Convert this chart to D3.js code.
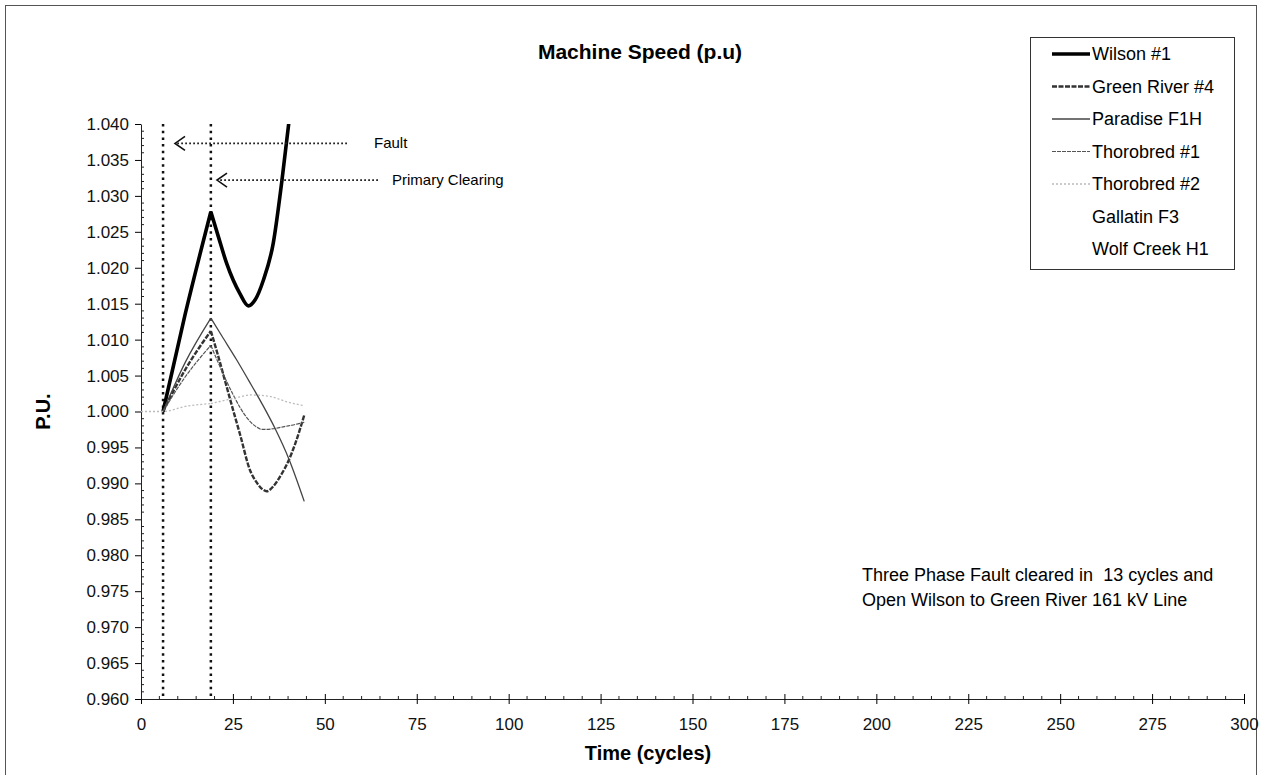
<!DOCTYPE html>
<html>
<head>
<meta charset="utf-8">
<script src="https://cdn.jsdelivr.net/npm/d3@7"></script>
<style>
  body { margin: 0; background: #fff; }
  svg { display: block; font-family: "Liberation Sans", Arial, sans-serif; }
</style>
</head>
<body>
<svg id="chart" width="1262" height="775"></svg>
<script>
// Series data (time in cycles, speed in p.u.)
const seriesNames = ["Wilson #1", "Green River #4", "Paradise F1H", "Thorobred #1", "Thorobred #2", "Gallatin F3", "Wolf Creek H1"];

const wilsonT = [6, 12, 19, 21, 23.3, 26.9, 29.2, 31, 33.3, 36, 38.3, 40.4];
const wilsonV = [1.0000, 1.0135, 1.0278, 1.0244, 1.0206, 1.0164, 1.0147, 1.0155, 1.0183, 1.0235, 1.0320, 1.0410];

const greenT = [6, 12, 19, 21, 23, 25, 27, 29.6, 31.5, 33, 34.2, 36, 38, 40, 42, 44.4];
const greenV = [1.0000, 1.0058, 1.0112, 1.0077, 1.0040, 1.0003, 0.9967, 0.9919, 0.9901, 0.9892, 0.9889, 0.9896, 0.9911, 0.9930, 0.9956, 0.9995];

const paradiseT = [6, 12, 19, 22, 26, 29.2, 33, 36.4, 40.3, 44.4];
const paradiseV = [1.0000, 1.0068, 1.0130, 1.0105, 1.0072, 1.0044, 1.0010, 0.9977, 0.9933, 0.9875];

const thoro1T = [6, 12, 19, 21, 23, 25, 27, 29, 31, 33, 36, 39, 42, 44.4];
const thoro1V = [1.0000, 1.0048, 1.0092, 1.0068, 1.0045, 1.0024, 1.0005, 0.9990, 0.9980, 0.9975, 0.9976, 0.9979, 0.9982, 0.9985];

const thoro2T = [0, 6, 12, 19, 25, 30, 35, 40, 44.4];
const thoro2V = [1.0000, 1.0000, 1.0007, 1.0011, 1.0018, 1.0023, 1.0021, 1.0013, 1.0008];

const faultTime = 6;
const clearTime = 19;

const xTicks = [0, 25, 50, 75, 100, 125, 150, 175, 200, 225, 250, 275, 300];
const yTicks = d3.range(0, 17).map(i => +(0.960 + i * 0.005).toFixed(3));

// Layout
const svg = d3.select("#chart");
const plot = { left: 141, right: 1244, top: 124, bottom: 699 };

const x = d3.scaleLinear().domain([0, 300]).range([plot.left, plot.right]);
const y = d3.scaleLinear().domain([0.960, 1.040]).range([plot.bottom, plot.top]);

// outer chart border
svg.append("rect")
  .attr("x", 5.5).attr("y", 5.5)
  .attr("width", 1251).attr("height", 780)
  .attr("fill", "none").attr("stroke", "#555").attr("stroke-width", 1);

// title
svg.append("text")
  .attr("x", 640).attr("y", 59)
  .attr("text-anchor", "middle")
  .attr("font-size", 21).attr("font-weight", "bold")
  .text("Machine Speed (p.u)");

// axes
const xAxis = d3.axisBottom(x).tickValues(xTicks).tickSizeInner(5).tickSizeOuter(0).tickPadding(14);
const gx = svg.append("g").attr("transform", `translate(0,${plot.bottom})`).call(xAxis);
gx.selectAll("text").attr("font-size", 17).attr("fill", "#111");
gx.selectAll(".tick line").attr("y1", -5);
gx.select(".domain").attr("stroke", "#222");

// x minor ticks (inside)
svg.append("g").selectAll("line")
  .data(d3.range(0, 301, 5).filter(v => v % 25 !== 0))
  .join("line")
  .attr("x1", d => x(d)).attr("x2", d => x(d))
  .attr("y1", plot.bottom).attr("y2", plot.bottom - 3)
  .attr("stroke", "#222");

const yAxis = d3.axisLeft(y).tickValues(yTicks).tickFormat(d3.format(".3f")).tickSizeInner(6).tickSizeOuter(0).tickPadding(6);
const gy = svg.append("g").attr("transform", `translate(${plot.left},0)`).call(yAxis);
gy.selectAll("text").attr("font-size", 17).attr("fill", "#111");
gy.select(".domain").attr("stroke", "#222");

// y minor ticks (inside)
svg.append("g").selectAll("line")
  .data(d3.range(0, 81).filter(i => i % 5 !== 0))
  .join("line")
  .attr("x1", plot.left).attr("x2", plot.left + 3)
  .attr("y1", i => y(0.960 + i * 0.001)).attr("y2", i => y(0.960 + i * 0.001))
  .attr("stroke", "#222");

// axis titles
svg.append("text")
  .attr("x", 648).attr("y", 760)
  .attr("text-anchor", "middle")
  .attr("font-size", 20).attr("font-weight", "bold")
  .text("Time (cycles)");

svg.append("text")
  .attr("transform", `translate(50,${(plot.top + plot.bottom) / 2}) rotate(-90)`)
  .attr("text-anchor", "middle")
  .attr("font-size", 20).attr("font-weight", "bold")
  .text("P.U.");

// clip
svg.append("clipPath").attr("id", "plotClip")
  .append("rect")
  .attr("x", plot.left).attr("y", plot.top)
  .attr("width", plot.right - plot.left).attr("height", plot.bottom - plot.top);

// event markers
[faultTime, clearTime].forEach(t => {
  svg.append("line")
    .attr("x1", x(t)).attr("x2", x(t))
    .attr("y1", plot.top).attr("y2", plot.bottom)
    .attr("stroke", "#111").attr("stroke-width", 2.5)
    .attr("stroke-dasharray", "2.5,4.2");
});

// series
const styles = [
  { color: "#000", width: 3.6, dash: null },
  { color: "#333", width: 2.4, dash: "5,1.5" },
  { color: "#444", width: 1.3, dash: null },
  { color: "#555", width: 1.2, dash: "4,1" },
  { color: "#bbb", width: 1.3, dash: "2,2" },
  null,
  null
];

const seriesData = [
  d3.zip(wilsonT, wilsonV),
  d3.zip(greenT, greenV),
  d3.zip(paradiseT, paradiseV),
  d3.zip(thoro1T, thoro1V),
  d3.zip(thoro2T, thoro2V)
];

const line = d3.line()
  .x(d => x(d[0]))
  .y(d => y(d[1]))
  .curve(d3.curveMonotoneX);

const gSeries = svg.append("g").attr("clip-path", "url(#plotClip)");
seriesData.forEach((pts, i) => {
  const st = styles[i];
  // draw before and after clearing separately so the peak stays sharp
  const before = pts.filter(p => p[0] <= clearTime);
  const after = pts.filter(p => p[0] >= clearTime);
  [before, after].forEach(seg => {
    if (seg.length < 2) return;
    gSeries.append("path")
      .attr("d", line(seg))
      .attr("fill", "none")
      .attr("stroke", st.color)
      .attr("stroke-width", st.width)
      .attr("stroke-dasharray", st.dash)
      .attr("stroke-linejoin", "round");
  });
});

// annotations with arrows
const notes = [
  { label: "Fault", v: 1.0373, from: 347, to: 175, textX: 374 },
  { label: "Primary Clearing", v: 1.0322, from: 378, to: 217, textX: 392 }
];
notes.forEach(n => {
  const yy = y(n.v);
  svg.append("line")
    .attr("x1", n.from).attr("x2", n.to + 2)
    .attr("y1", yy).attr("y2", yy)
    .attr("stroke", "#222").attr("stroke-width", 1.8)
    .attr("stroke-dasharray", "1.8,2.2");
  svg.append("path")
    .attr("d", `M${n.to + 10},${yy - 7} L${n.to},${yy} L${n.to + 10},${yy + 7}`)
    .attr("fill", "none").attr("stroke", "#111").attr("stroke-width", 1.6);
  svg.append("text")
    .attr("x", n.textX).attr("y", yy + 5)
    .attr("font-size", 15)
    .text(n.label);
});

// legend
const legend = svg.append("g");
legend.append("rect")
  .attr("x", 1030.5).attr("y", 37.5)
  .attr("width", 204).attr("height", 232)
  .attr("fill", "#fff").attr("stroke", "#333");
seriesNames.forEach((name, i) => {
  const ly = 54 + i * 32.5;
  const st = styles[i];
  if (st) {
    legend.append("line")
      .attr("x1", 1052).attr("x2", 1090)
      .attr("y1", ly).attr("y2", ly)
      .attr("stroke", st.color)
      .attr("stroke-width", st.width)
      .attr("stroke-dasharray", st.dash);
  }
  legend.append("text")
    .attr("x", 1092).attr("y", ly + 6)
    .attr("font-size", 18)
    .text(name);
});

// note text
const note = svg.append("text").attr("font-size", 18).style("white-space", "pre");
note.append("tspan").attr("x", 862).attr("y", 581).text("Three Phase Fault cleared in  13 cycles and");
note.append("tspan").attr("x", 862).attr("y", 606).text("Open Wilson to Green River 161 kV Line");
</script>
</body>
</html>
